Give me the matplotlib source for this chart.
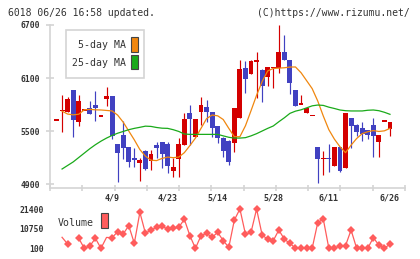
import numpy as np
import matplotlib
matplotlib.use("Agg")
import matplotlib.pyplot as plt
from matplotlib.patches import Rectangle

# ---------------- data ----------------
opens = [5625, 5730, 5719, 5964, 5602, 5738, 5760, 5794, 5670, 5862,
         5896, 5353, 5455, 5322, 5198, 5134, 5274, 5164, 5342, 5372,
         5349, 5051, 5183, 5342, 5700, 5436, 5719, 5768, 5712, 5557,
         5424, 5387, 5361, 5651, 6213, 6149, 6292, 6191, 6115, 6217,
         6210, 6394, 6304, 5964, 5806, 5707, 5678, 5322, 5191, 5191,
         5107, 5322, 5085, 5651, 5568, 5538, 5511, 5568, 5379, 5613,
         5523]
highs = [5625, 5908, 5888, 5964, 5908, 5738, 5840, 5953, 5670, 6002,
         5896, 5353, 5613, 5322, 5304, 5194, 5285, 5285, 5380, 5380,
         5380, 5191, 5417, 5700, 5794, 5636, 5888, 5851, 5712, 5557,
         5436, 5398, 5757, 6304, 6292, 6300, 6394, 6202, 6224, 6217,
         6700, 6587, 6304, 5964, 5908, 5764, 5678, 5322, 5277, 5353,
         5322, 5322, 5707, 5651, 5580, 5598, 5511, 5643, 5455, 5613,
         5606]
lows = [5625, 5492, 5719, 5429, 5557, 5738, 5689, 5613, 5670, 5783,
        5409, 4923, 5183, 5096, 5096, 4937, 5059, 5059, 5191, 5078,
        5021, 4983, 4983, 5342, 5342, 5436, 5568, 5606, 5429, 5368,
        5209, 5115, 5258, 5651, 5934, 6149, 5870, 5832, 6013, 5990,
        6153, 6304, 5915, 5787, 5806, 5700, 5678, 4908, 5002, 5040,
        5107, 5040, 5085, 5304, 5440, 5390, 5406, 5209, 5209, 5613,
        5447]
closes = [5625, 5730, 5862, 5625, 5840, 5738, 5689, 5764, 5670, 5896,
          5443, 5254, 5311, 5153, 5175, 5172, 5066, 5240, 5311, 5240,
          5107, 5089, 5353, 5636, 5632, 5636, 5794, 5712, 5531, 5417,
          5274, 5153, 5757, 6202, 6092, 6292, 6292, 6013, 6224, 6217,
          6394, 6304, 6047, 5787, 5806, 5764, 5678, 5183, 5191, 5191,
          5322, 5051, 5707, 5560, 5485, 5466, 5455, 5447, 5455, 5613,
          5606]
# candle colour for dojis (open == close): 'r' up-coloured, 'b' down-coloured
doji_colors = {0: 'r', 1: 'r', 5: 'r', 8: 'r', 36: 'r', 39: 'r', 44: 'r',
               46: 'r', 48: 'r', 49: 'b', 59: 'r'}

nan = np.nan
ma5 = [nan, 5725, 5692, 5683, 5690, 5740, 5745, 5740, 5738, 5733,
       5727, 5680, 5600, 5500, 5400, 5290, 5215, 5170, 5165, 5190,
       5205, 5198, 5205, 5255, 5335, 5420, 5530, 5640, 5681, 5672,
       5630, 5530, 5435, 5436, 5560, 5730, 5905, 6060, 6180, 6208,
       6212, 6216, 6224, 6225, 6160, 6070, 5980, 5840, 5670, 5515,
       5408, 5322, 5255, 5340, 5415, 5470, 5492, 5505, 5495, 5502,
       5530]
ma25 = [nan, 5070, 5110, 5150, 5200, 5250, 5300, 5345, 5385, 5420,
        5450, 5475, 5495, 5515, 5530, 5542, 5555, 5552, 5540, 5532,
        5530, 5515, 5495, 5466, 5462, 5462, 5462, 5462, 5462, 5462,
        5445, 5429, 5420, 5420, 5425, 5445, 5470, 5500, 5530, 5557,
        5605, 5650, 5700, 5725, 5740, 5762, 5785, 5794, 5790, 5770,
        5755, 5738, 5730, 5727, 5727, 5727, 5735, 5738, 5730, 5712,
        5689]
volume = [nan, 6060, 2430, nan, 5520, 100, 1350, 5520, 100, 6000,
          5850, 9100, 7850, 12350, 2810, 19600, 8230, 10020, 11480, 12190,
          10400, 10940, 11480, 15820, 6930, 100, 6930, 8230, 6060, 8770,
          4220, 640, 15440, 21400, 7690, 8770, 21400, 7310, 4980, 4220,
          10020, 4980, 2810, 100, 100, 100, 100, 13980, 15980, 100,
          100, 1510, 1510, 10020, 100, 100, 100, 5850, 1890, 100,
          2430]

date_labels = ["4/9", "4/23", "5/14", "5/28", "6/11", "6/26"]
date_index = [10, 20, 29, 39, 49, 60]
price_ticks = [4900, 5500, 6100, 6700]
volume_ticks = [100, 10750, 21400]

# ---------------- style ----------------
RED = "#d40000"
BLUE = "#4141c1"
ORANGE = "#f0870f"
GREEN = "#1aaa1a"
VOLC = "#ff5c5c"
AXC = "#d4d4d4"
TXT = "#333333"
MONO = "DejaVu Sans Mono"

W, H = 420, 259
fig = plt.figure(figsize=(W / 100, H / 100), dpi=100)
fig.patch.set_facecolor("white")


def fx(px):
    return px / W


def fy(py):
    return 1 - py / H


ax = fig.add_axes([fx(50), fy(188), fx(405) - fx(50), fy(25) - fy(188)])
axv = fig.add_axes([fx(50), fy(254), fx(405) - fx(50), fy(203) - fy(254)])

px_per_candle = 5.558
x0_px = 56.5
xlim = ((50 - x0_px) / px_per_candle, (405 - x0_px) / px_per_candle)

n = len(opens)
idx = np.arange(n)
body_w = 0.88
px_price = (6700 - 4855) / 163.0

for i in range(n):
    o, h, l, c = opens[i], highs[i], lows[i], closes[i]
    if o == c:
        col = RED if doji_colors.get(i, 'r') == 'r' else BLUE
    else:
        col = RED if c > o else BLUE
    if h > l:
        ax.vlines(i, l, h, color=col, linewidth=0.85, zorder=2)
    if o == c:
        ax.add_patch(Rectangle((i - body_w / 2, o - px_price * 0.6), body_w,
                               px_price * 1.3, facecolor=col, edgecolor="none", zorder=3))
    else:
        ax.add_patch(Rectangle((i - body_w / 2, min(o, c)), body_w, abs(c - o),
                               facecolor=col, edgecolor="none", zorder=3))

ax.plot(idx, ma5, color=ORANGE, linewidth=0.9, zorder=4)
ax.plot(idx, ma25, color=GREEN, linewidth=0.9, zorder=4)

ax.set_xlim(*xlim)
ax.set_ylim(4855, 6700)
for s in ["top", "right"]:
    ax.spines[s].set_visible(False)
for s in ["left", "bottom"]:
    ax.spines[s].set_color(AXC)
    ax.spines[s].set_linewidth(1.2)
ax.set_yticks(price_ticks)
ax.set_yticklabels([str(t) for t in price_ticks], fontfamily=MONO,
                   fontsize=5.8, fontweight="bold", color=TXT)
ax.tick_params(axis="y", direction="inout", length=6, width=1.2, color=AXC, pad=4)
grid_px = [50 + 32.27 * k for k in range(12)]
ax.set_xticks([(p - x0_px) / px_per_candle for p in grid_px])
ax.set_xticklabels([])
ax.tick_params(axis="x", which="major", direction="inout", length=5, width=1.2, color=AXC)
ax.set_xticks(date_index, minor=True)
ax.set_xticklabels(date_labels, minor=True, fontfamily=MONO, fontsize=6,
                   fontweight="bold", color=TXT)
ax.tick_params(axis="x", which="minor", length=0, pad=4)
ax.set_facecolor("white")

# legend box
lx0, ly0, lx1, ly1 = 65.5, 30, 143.5, 77.5
fig.patches.append(Rectangle((fx(lx0), fy(ly1)), fx(lx1) - fx(lx0), fy(ly0) - fy(ly1),
                             transform=fig.transFigure, facecolor="white",
                             edgecolor=AXC, linewidth=1.2, zorder=10))
fig.text(fx(125.5), fy(45.5), "5-day MA", ha="right", va="center", fontfamily=MONO,
         fontsize=7.1, color=TXT, zorder=11)
fig.text(fx(125.5), fy(62.5), "25-day MA", ha="right", va="center", fontfamily=MONO,
         fontsize=7.1, color=TXT, zorder=11)
fig.patches.append(Rectangle((fx(131.3), fy(51.7)), fx(137.8) - fx(131.3), fy(37.3) - fy(51.7),
                             transform=fig.transFigure, facecolor=ORANGE,
                             edgecolor="#444444", linewidth=0.8, zorder=11))
fig.patches.append(Rectangle((fx(131.3), fy(69.3)), fx(137.8) - fx(131.3), fy(54.5) - fy(69.3),
                             transform=fig.transFigure, facecolor=GREEN,
                             edgecolor="#444444", linewidth=0.8, zorder=11))

# volume
vpx = 542.0
axv.plot(idx, volume, color=VOLC, linewidth=0.9, marker="D", markersize=4.0,
         markeredgewidth=0, markevery=[i for i in range(n) if i not in (1, 9)])
axv.set_xlim(*xlim)
axv.set_ylim(100 - (254 - 248.3) * vpx, 100 + (248.3 - 203) * vpx)
for s in axv.spines.values():
    s.set_visible(False)
axv.set_xticks([])
axv.set_yticks(volume_ticks)
axv.set_yticklabels([str(t) for t in volume_ticks], fontfamily=MONO,
                    fontsize=5.8, fontweight="bold", color=TXT)
axv.tick_params(axis="y", length=0, pad=4.5)
axv.patch.set_alpha(0)

fig.text(fx(57.5), fy(222.5), "Volume", ha="left", va="center", fontfamily=MONO,
         fontsize=7.1, color=TXT)
fig.patches.append(Rectangle((fx(101.3), fy(228)), fx(107.5) - fx(101.3), fy(213.3) - fy(228),
                             transform=fig.transFigure, facecolor=VOLC,
                             edgecolor="#444444", linewidth=0.8, zorder=11))

# header
fig.text(fx(7.5), fy(12.8), "6018 06/26 16:58 updated.", ha="left", va="center",
         fontfamily=MONO, fontsize=7.0, color=TXT)
fig.text(fx(409.5), fy(12.8), "(C)https://www.rizumu.net/", ha="right", va="center",
         fontfamily=MONO, fontsize=7.0, color=TXT)

fig.savefig("out.png", dpi=100, facecolor="white")
